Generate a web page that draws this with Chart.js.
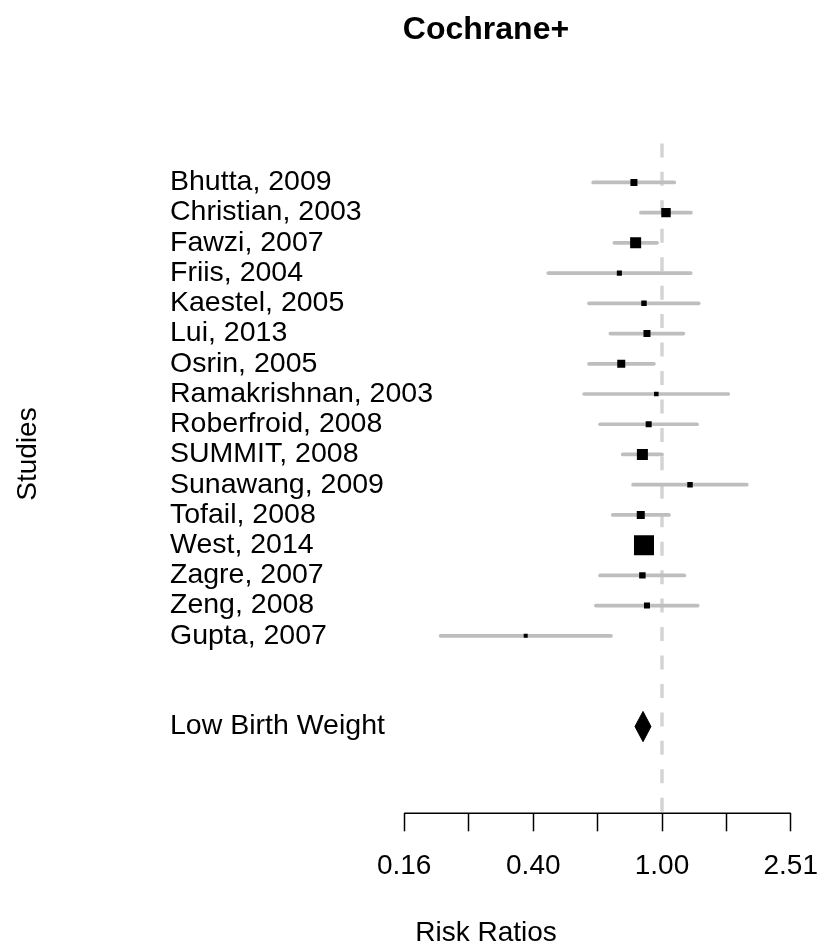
<!DOCTYPE html>
<html>
<head>
<meta charset="utf-8">
<script src="https://cdn.jsdelivr.net/npm/chart.js@4/dist/chart.umd.min.js"></script>
<style>
  html, body { margin: 0; padding: 0; background: #ffffff; }
  #wrap { width: 820px; height: 947px; }
</style>
</head>
<body>
<div id="wrap"><canvas id="c" width="820" height="947"></canvas></div>
<script>
// ---------------- data ----------------
const studies = [
  'Bhutta, 2009', 'Christian, 2003', 'Fawzi, 2007', 'Friis, 2004',
  'Kaestel, 2005', 'Lui, 2013', 'Osrin, 2005', 'Ramakrishnan, 2003',
  'Roberfroid, 2008', 'SUMMIT, 2008', 'Sunawang, 2009', 'Tofail, 2008',
  'West, 2014', 'Zagre, 2007', 'Zeng, 2008', 'Gupta, 2007'
];
const riskRatio = [0.818, 1.029, 0.828, 0.737, 0.879, 0.898, 0.747, 0.960,
                   0.909, 0.869, 1.222, 0.859, 0.879, 0.869, 0.898, 0.377];
const ciLow     = [0.611, 0.860, 0.711, 0.443, 0.593, 0.691, 0.593, 0.573,
                   0.642, 0.755, 0.813, 0.703, 0.840, 0.642, 0.623, 0.205];
const ciHigh    = [1.092, 1.230, 0.965, 1.228, 1.300, 1.165, 0.944, 1.607,
                   1.285, 1.000, 1.834, 1.051, 0.920, 1.173, 1.291, 0.694];
const weights   = [5.2, 8.4, 10.4, 2.7, 3.2, 5.2, 6.5, 2.0,
                   3.9, 10.4, 3.2, 6.5, 22.1, 4.5, 3.9, 1.3];

const pooledLabel = 'Low Birth Weight';
const pooledRR   = 0.873;
const pooledLow  = 0.824;
const pooledHigh = 0.924;

const tickValues = [0.158, 0.251, 0.398, 0.631, 1.0, 1.585, 2.512];
const tickLabels = ['0.16', '', '0.40', '', '1.00', '', '2.51'];

const chartTitle = 'Cochrane+';
const xTitle = 'Risk Ratios';
const yTitle = 'Studies';
const refValue = 1;

// ---------------- layout helpers ----------------
const FONT = '"Liberation Sans", Arial, Helvetica, sans-serif';
const rows = studies.map((s, i) => studies.length - i);
const POOLED_ROW = -2;
const REF_TOP = studies.length + 1.29;
const Y_MIN = -4.87, Y_MAX = 20.38;
const X_MIN = 0.02956, X_MAX = 2.7236;

const datasets = [];

// squares
datasets.push({
  label: 'studies',
  data: studies.map((s, i) => ({ x: riskRatio[i], y: rows[i] })),
  pointStyle: 'rect',
  pointRadius: weights.map(w => (3 + 0.77 * w) / Math.SQRT2),
  pointHoverRadius: weights.map(w => (3 + 0.77 * w) / Math.SQRT2),
  pointBackgroundColor: '#000000',
  pointBorderWidth: 0,
  showLine: false,
  order: 0
});

// pooled diamond
datasets.push({
  label: 'pooled',
  data: [
    { x: pooledLow, y: POOLED_ROW },
    { x: pooledRR, y: POOLED_ROW + 0.5 },
    { x: pooledHigh, y: POOLED_ROW },
    { x: pooledRR, y: POOLED_ROW - 0.5 },
    { x: pooledLow, y: POOLED_ROW }
  ],
  showLine: true,
  borderColor: '#000000',
  backgroundColor: '#000000',
  borderWidth: 1,
  fill: 'shape',
  pointRadius: 0,
  tension: 0,
  order: 0
});

// confidence intervals
studies.forEach((s, i) => {
  datasets.push({
    label: 'ci ' + s,
    data: [{ x: ciLow[i], y: rows[i] }, { x: ciHigh[i], y: rows[i] }],
    showLine: true,
    borderColor: '#bebebe',
    borderWidth: 3.7,
    borderCapStyle: 'round',
    pointRadius: 0,
    order: 1
  });
});

// reference line
datasets.push({
  label: 'ref',
  data: [{ x: refValue, y: REF_TOP }, { x: refValue, y: Y_MIN }],
  showLine: true,
  borderColor: '#d3d3d3',
  borderWidth: 3.4,
  borderDash: [14, 14.45],
  pointRadius: 0,
  order: 2
});

const forestText = {
  id: 'forestText',
  afterDatasetsDraw(chart) {
    const { ctx, chartArea } = chart;
    const x = chart.scales.x, y = chart.scales.y;
    ctx.save();
    ctx.fillStyle = '#000000';
    ctx.font = '28.5px ' + FONT;
    ctx.textAlign = 'left';
    ctx.textBaseline = 'middle';
    studies.forEach((s, i) => ctx.fillText(s, chartArea.left, y.getPixelForValue(rows[i])));
    ctx.fillText(pooledLabel, chartArea.left, y.getPixelForValue(POOLED_ROW));
    // axis line between first and last tick
    ctx.strokeStyle = '#000000';
    ctx.lineWidth = 1.5;
    ctx.beginPath();
    ctx.moveTo(x.getPixelForValue(tickValues[0]), chartArea.bottom);
    ctx.lineTo(x.getPixelForValue(tickValues[tickValues.length - 1]), chartArea.bottom);
    ctx.stroke();
    // y title
    ctx.font = '28px ' + FONT;
    ctx.translate(28, 454);
    ctx.rotate(-Math.PI / 2);
    ctx.textAlign = 'center';
    ctx.fillText(yTitle, 0, 0);
    ctx.restore();
  }
};

new Chart(document.getElementById('c'), {
  type: 'scatter',
  data: { datasets },
  options: {
    responsive: false,
    devicePixelRatio: 1,
    animation: false,
    events: [],
    layout: { padding: { left: 170, right: 18, top: 0, bottom: 0 } },
    plugins: {
      legend: { display: false },
      tooltip: { enabled: false },
      title: {
        display: true,
        text: chartTitle,
        color: '#000000',
        font: { family: FONT, size: 32, weight: 'bold', lineHeight: 1 },
        padding: { top: 14, bottom: 4 }
      }
    },
    scales: {
      x: {
        type: 'logarithmic',
        min: X_MIN,
        max: X_MAX,
        afterBuildTicks: (scale) => { scale.ticks = tickValues.map(v => ({ value: v })); },
        afterFit: (scale) => { scale.paddingLeft = 0; scale.paddingRight = 0; },
        border: { display: false },
        grid: {
          display: true,
          drawOnChartArea: false,
          drawTicks: true,
          tickLength: 18,
          tickWidth: 1.5,
          tickColor: '#000000'
        },
        ticks: {
          autoSkip: false,
          maxRotation: 0,
          minRotation: 0,
          padding: 21,
          color: '#000000',
          font: { family: FONT, size: 28, lineHeight: 1 },
          callback: (v, i) => tickLabels[i]
        },
        title: {
          display: true,
          text: xTitle,
          color: '#000000',
          font: { family: FONT, size: 28, lineHeight: 1 },
          padding: { top: 17.7, bottom: 0 }
        }
      },
      y: {
        type: 'linear',
        display: false,
        min: Y_MIN,
        max: Y_MAX
      }
    }
  },
  plugins: [forestText]
});
</script>
</body>
</html>
